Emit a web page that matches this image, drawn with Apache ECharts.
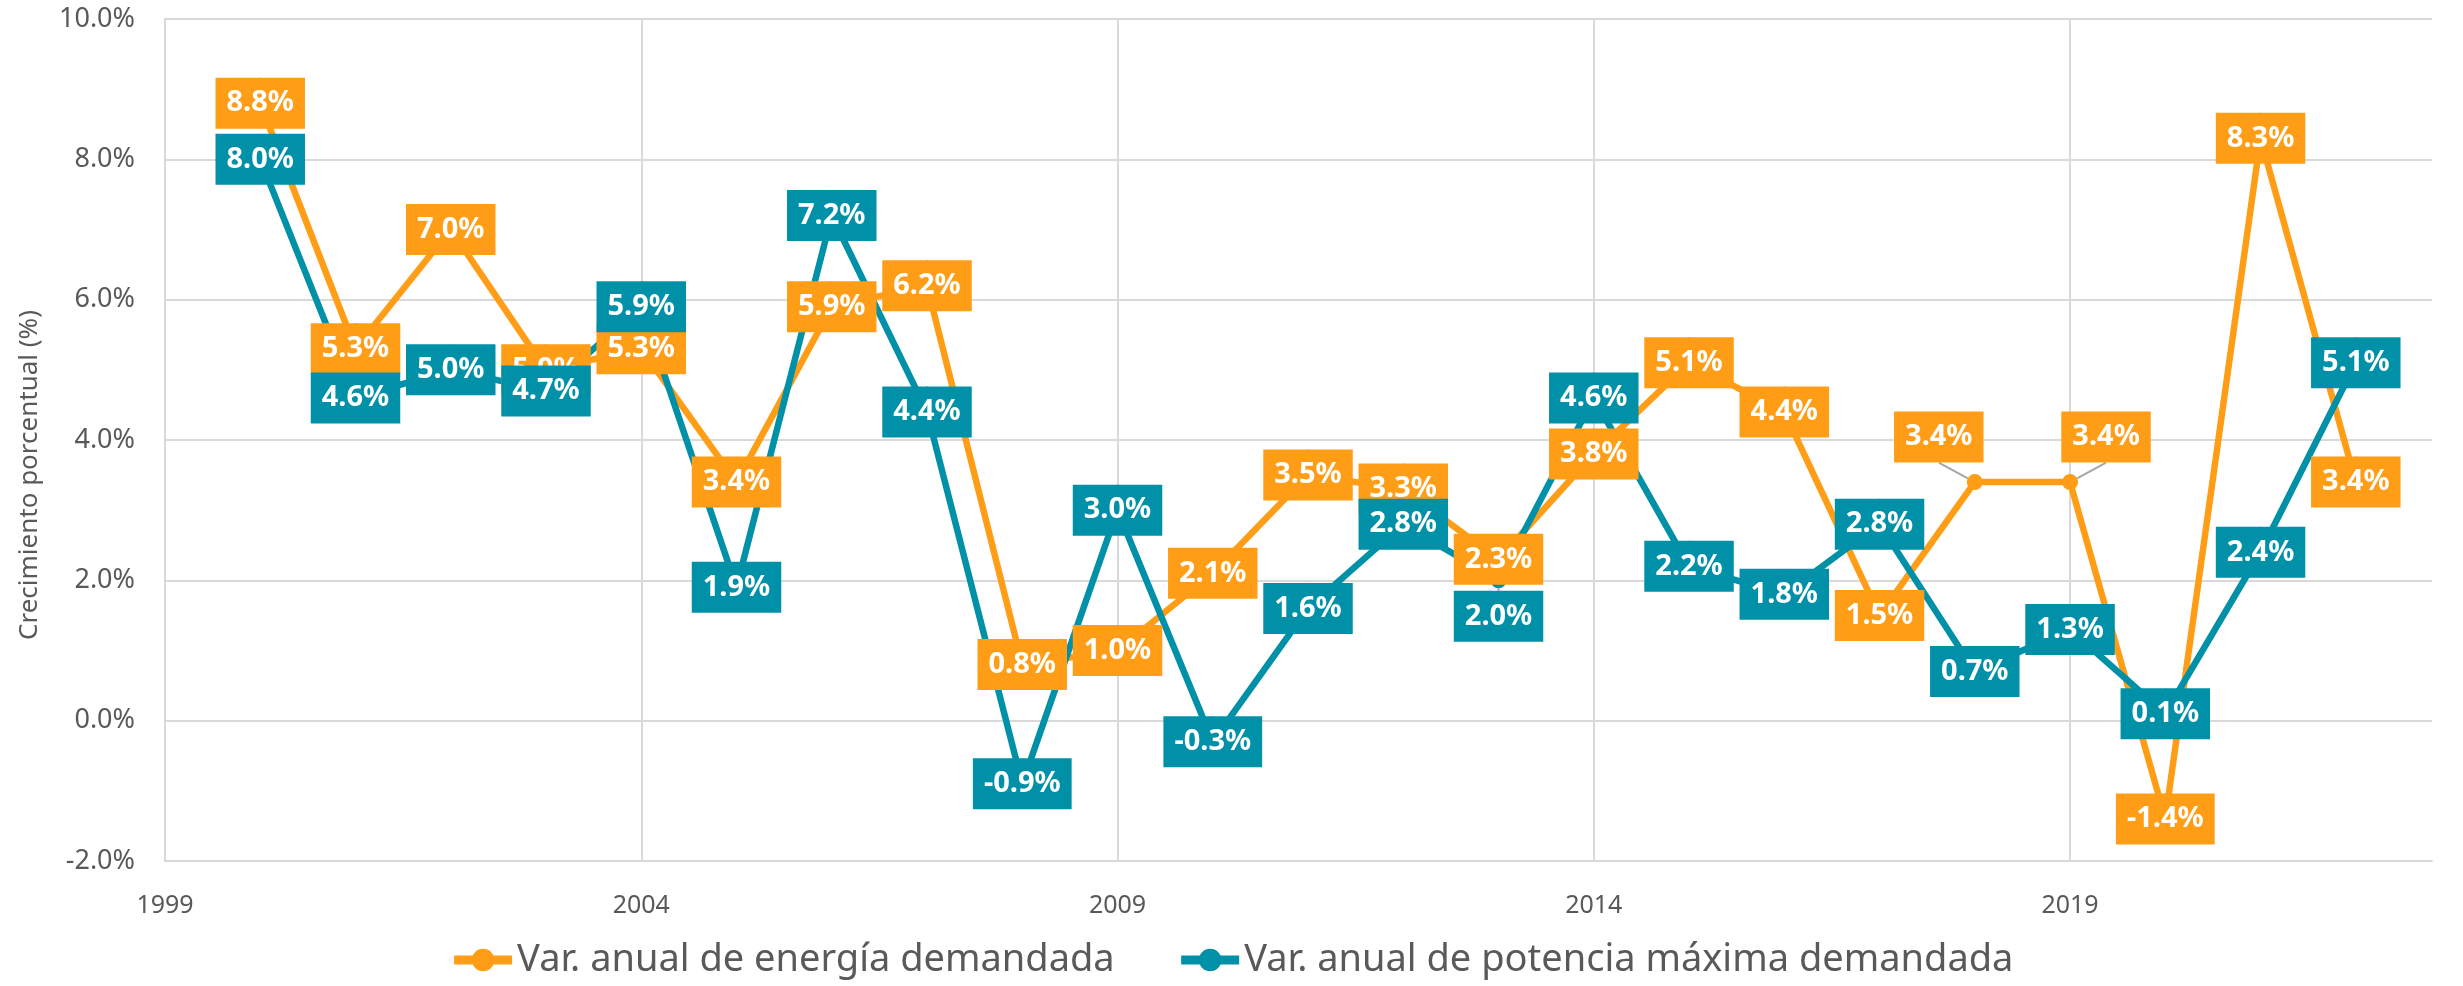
<!DOCTYPE html>
<html>
<head>
<meta charset="utf-8">
<script src="https://cdn.jsdelivr.net/npm/echarts@6/dist/echarts.min.js"></script>
<style>
  html, body { margin: 0; padding: 0; background: #fff; }
  #chart { width: 2463px; height: 986px; }
</style>
</head>
<body>
<div id="chart"></div>
<script>
// años y variaciones anuales (%)
const years = [2000, 2001, 2002, 2003, 2004, 2005, 2006, 2007, 2008, 2009, 2010, 2011,
  2012, 2013, 2014, 2015, 2016, 2017, 2018, 2019, 2020, 2021, 2022]
const energia = [8.8, 5.3, 7.0, 5.0, 5.3, 3.4, 5.9, 6.2, 0.8, 1.0, 2.1, 3.5,
  3.3, 2.3, 3.8, 5.1, 4.4, 1.5, 3.4, 3.4, -1.4, 8.3, 3.4]
const potencia = [8.0, 4.6, 5.0, 4.7, 5.9, 1.9, 7.2, 4.4, -0.9, 3.0, -0.3, 1.6,
  2.8, 2.0, 4.6, 2.2, 1.8, 2.8, 0.7, 1.3, 0.1, 2.4, 5.1]

const ORANGE = '#FF9E16'
const TEAL = '#0091A9'
const FONT = 'Noto Sans'

// etiquetas desplazadas (con línea guía)
const energiaMoved = { 18: [-36, -45], 19: [36, -45] }
const potenciaMoved = { 13: [0, 36] }

function labelStyle(color) {
  return {
    show: true,
    position: 'inside',
    formatter: p => p.value[1].toFixed(1) + '%',
    backgroundColor: color,
    color: '#fff',
    fontFamily: FONT,
    fontWeight: 'bold',
    fontSize: 29,
    lineHeight: 33,
    padding: [9, 11]
  }
}

function makeSeries(name, values, color, moved) {
  return {
    name,
    type: 'line',
    data: years.map((y, i) => [y, values[i]]),
    symbol: 'circle',
    symbolSize: 16,
    itemStyle: { color },
    lineStyle: { color, width: 6.5 },
    label: labelStyle(color),
    labelLine: { show: true, lineStyle: { color: '#a6a6a6', width: 2 } },
    labelLayout: params => {
      const m = moved[params.dataIndex]
      return m ? { dx: m[0], dy: m[1] } : {}
    },
    animation: false
  }
}

const chart = echarts.init(document.getElementById('chart'))
chart.setOption({
  animation: false,
  grid: { left: 165, right: 31, top: 19, bottom: 125 },
  legend: {
    bottom: 2,
    left: 'center',
    itemWidth: 58,
    itemHeight: 28,
    itemGap: 62,
    lineStyle: { width: 9 },
    textStyle: { fontFamily: FONT, fontSize: 38, color: '#595959' },
    data: ['Var. anual de energía demandada', 'Var. anual de potencia máxima demandada']
  },
  xAxis: {
    type: 'value',
    min: 1999,
    max: 2022.8,
    interval: 5,
    axisLine: { onZero: false, lineStyle: { color: '#d9d9d9', width: 2 } },
    axisTick: { show: false },
    axisLabel: {
      showMaxLabel: false,
      formatter: v => String(v),
      margin: 32,
      fontFamily: FONT,
      fontSize: 25,
      color: '#595959'
    },
    splitLine: { show: true, showMaxLine: false, lineStyle: { color: '#d9d9d9', width: 2 } }
  },
  yAxis: {
    type: 'value',
    min: -2,
    max: 10,
    interval: 2,
    name: 'Crecimiento porcentual (%)',
    nameLocation: 'middle',
    nameGap: 122,
    nameTextStyle: { fontFamily: FONT, fontSize: 26, color: '#595959', padding: [0, 70, 0, 0] },
    axisLine: { show: true, lineStyle: { color: '#d9d9d9', width: 2 } },
    axisTick: { show: false },
    axisLabel: {
      formatter: v => v.toFixed(1) + '%',
      margin: 30,
      fontFamily: FONT,
      fontSize: 27,
      color: '#595959'
    },
    splitLine: { lineStyle: { color: '#d9d9d9', width: 2 } }
  },
  series: [
    makeSeries('Var. anual de energía demandada', energia, ORANGE, energiaMoved),
    makeSeries('Var. anual de potencia máxima demandada', potencia, TEAL, potenciaMoved)
  ]
})
</script>
</body>
</html>
